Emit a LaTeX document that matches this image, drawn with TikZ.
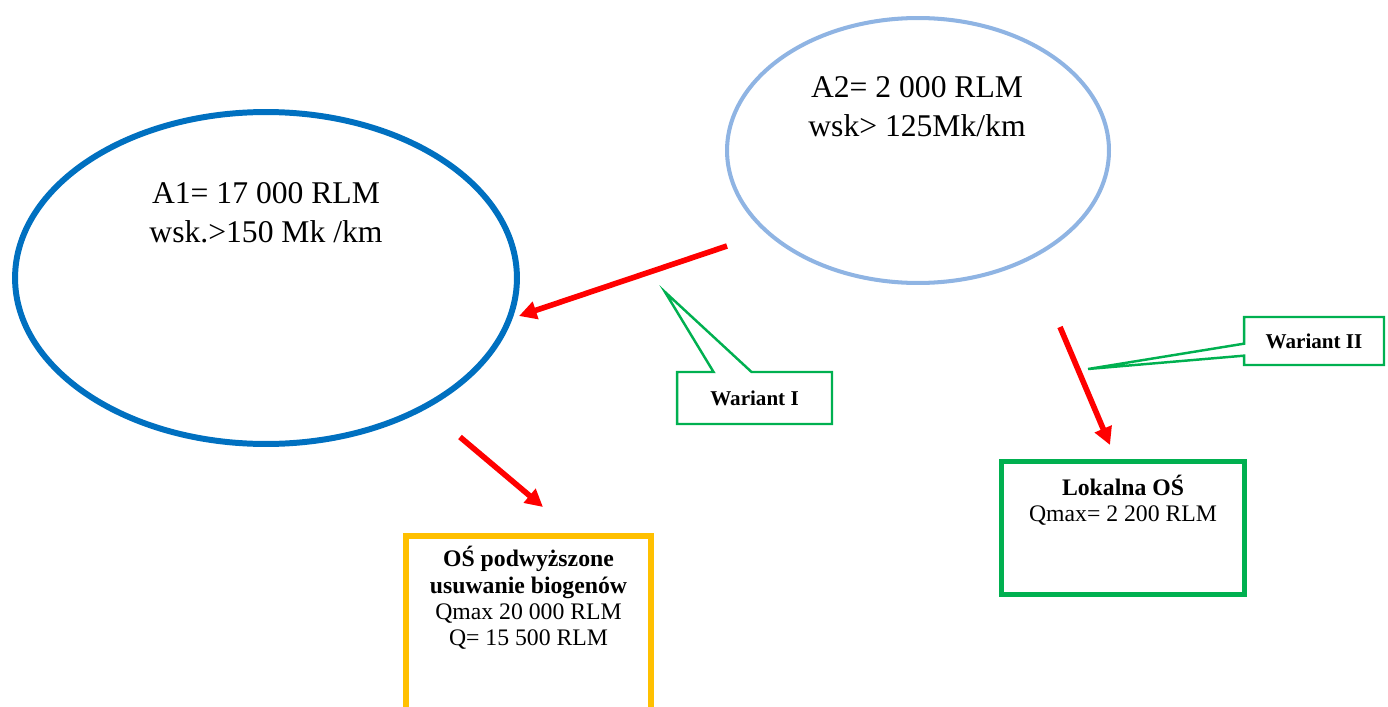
\documentclass[tikz,border=0pt]{standalone}
\usepackage{fontspec}
\setmainfont{Liberation Serif}
\usetikzlibrary{shapes.geometric,shapes.callouts,arrows.meta,positioning}
\definecolor{niebieski}{RGB}{0,112,192}
\definecolor{jasnoniebieski}{RGB}{143,180,227}
\definecolor{zielony}{RGB}{0,176,80}
\definecolor{pomaranczowy}{RGB}{255,192,0}

\begin{document}
\begin{tikzpicture}[x=0.02cm,y=-0.02cm,
	strzalka/.style={draw=red,line width=3.2pt,-{Triangle[length=10pt,width=10pt]}},
	obszar/.style={ellipse,inner sep=0pt},
	duzy/.style={inner sep=0pt,align=center,font=\fontsize{18}{22.1}\selectfont},
	maly/.style={inner sep=0pt,align=center,font=\fontsize{13.5}{15}\selectfont},
	wariant/.style={rectangle callout,draw=zielony,line width=1.4pt,inner sep=0pt,
		font=\fontsize{12}{14}\selectfont\bfseries}]
			\useasboundingbox (0,0) rectangle (1388,706);
			% obszary aglomeracji
			\node[obszar,draw=niebieski,line width=3.4pt,minimum width=10.04cm,minimum height=6.64cm] (A1) at (266,278) {};
			\node[obszar,draw=jasnoniebieski,line width=2.3pt,minimum width=7.64cm,minimum height=5.3cm] (A2) at (918,150.5) {};
			\node[duzy,anchor=north] (A1txt) at (266,182) {A1= 17 000 RLM\\wsk.>150 Mk /km};
			\node[duzy,anchor=north] (A2txt) at (917,76) {A2= 2 000 RLM\\wsk> 125Mk/km};

			% oczyszczalnie
			\node[draw=pomaranczowy,line width=3.4pt,minimum width=4.9cm,minimum height=4.48cm,inner sep=0pt] (os) at (528.5,648) {};
			\node[maly,below=0.26cm of os.north] (ostxt) {\textbf{OŚ podwyższone}\\\textbf{usuwanie biogenów}\\Qmax 20 000 RLM\\Q= 15 500 RLM};
			\node[draw=zielony,line width=2.8pt,minimum width=4.86cm,minimum height=2.66cm,inner sep=0pt] (lok) at (1123,528) {};
			\node[maly,below=0.31cm of lok.north] (loktxt) {\textbf{Lokalna OŚ}\\Qmax= 2 200 RLM};

			% strzalki
			\coordinate (s1) at (727,246);
			\coordinate (k1) at (519,316);
			\coordinate (s2) at (460,437);
			\coordinate (k2) at (543,507);
			\coordinate (s3) at (1060,327);
			\coordinate (k3) at (1110,445);
			\draw[strzalka] (s1) -- (k1);
			\draw[strzalka] (s2) -- (k2);
			\draw[strzalka] (s3) -- (k3);

			% warianty
			\coordinate (w1) at (665,292);
			\coordinate (w2) at (1088,369);
			\node[wariant,callout absolute pointer={(w1)},callout pointer width=0.76cm,
				minimum width=3.1cm,minimum height=1.04cm] (war1) at (754.5,398) {Wariant I};
			\node[wariant,callout absolute pointer={(w2)},callout pointer width=0.24cm,
				minimum width=2.8cm,minimum height=0.96cm] (war2) at (1314,341) {Wariant II};
\end{tikzpicture}
\end{document}
